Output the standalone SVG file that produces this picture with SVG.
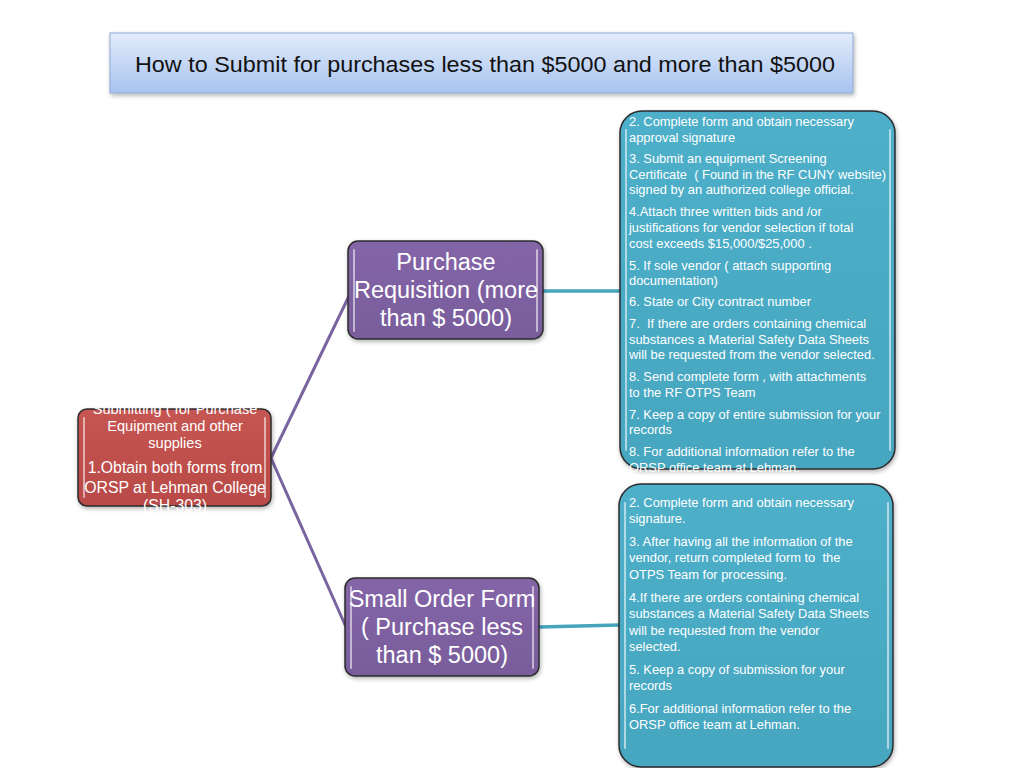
<svg xmlns="http://www.w3.org/2000/svg" width="1024" height="768" viewBox="0 0 1024 768">
<defs>
<linearGradient id="gTitle" x1="0" y1="0" x2="0" y2="1">
<stop offset="0" stop-color="#e3ecfb"/>
<stop offset="1" stop-color="#a7c3ef"/>
</linearGradient>
<linearGradient id="gRed" x1="0" y1="0" x2="0" y2="1">
<stop offset="0" stop-color="#c65552"/>
<stop offset="1" stop-color="#b84a47"/>
</linearGradient>
<linearGradient id="gPurple" x1="0" y1="0" x2="0" y2="1">
<stop offset="0" stop-color="#8466a8"/>
<stop offset="1" stop-color="#785c9b"/>
</linearGradient>
<linearGradient id="gBlue" x1="0" y1="0" x2="0" y2="1">
<stop offset="0" stop-color="#4eafc9"/>
<stop offset="1" stop-color="#46a6c0"/>
</linearGradient>
<filter id="sh" x="-10%" y="-10%" width="120%" height="125%">
<feDropShadow dx="1" dy="2" stdDeviation="2" flood-color="#000" flood-opacity="0.3"/>
</filter>
</defs>
<style>
.box{stroke:#2b2b2b;stroke-width:1.5}
.hl{stroke:#ffffff;stroke-opacity:0.55;stroke-width:2;stroke-linecap:round;fill:none}
.t{font-family:"Liberation Sans",Arial,sans-serif;fill:#ffffff;white-space:pre}
.small{font-size:12.9px}
.mid{font-size:14.6px;text-anchor:middle}
.mid2{font-size:15.8px;text-anchor:middle}
.big{font-size:23.5px;text-anchor:middle}
.title{font-family:"Liberation Sans",Arial,sans-serif;font-size:22px;fill:#111111}
.cp{stroke:#7a64a0;stroke-width:3;fill:none}
.cb{stroke:#46a4bd;stroke-width:3.5;fill:none}
</style>
<rect width="1024" height="768" fill="#ffffff"/>

<g id="title">
<rect x="110" y="33" width="743" height="60" fill="url(#gTitle)" stroke="#8eaad3" stroke-width="1" filter="url(#sh)"/>
<text class="title" x="135" y="72" textLength="700" lengthAdjust="spacingAndGlyphs">How to Submit for purchases less than $5000 and more than $5000</text>
</g>

<g id="connectors">
<line class="cp" x1="271" y1="458" x2="349" y2="296"/>
<line class="cp" x1="271" y1="458" x2="346" y2="627"/>
<line class="cb" x1="543" y1="291" x2="621" y2="291"/>
<line class="cb" x1="539" y1="627" x2="620" y2="625"/>
</g>

<g id="node-start">
<rect class="box" x="78" y="409" width="193" height="97" rx="9" fill="url(#gRed)" filter="url(#sh)"/>
<line class="hl" x1="84" y1="418" x2="84" y2="497"/>
<line class="hl" x1="265" y1="418" x2="265" y2="497"/>
<text class="t mid" x="175" y="414">Submitting ( for Purchase</text>
<text class="t mid" x="175" y="431">Equipment and other</text>
<text class="t mid" x="175" y="448">supplies</text>
<text class="t mid2" x="175" y="473">1.Obtain both forms from</text>
<text class="t mid2" x="175" y="493">ORSP at Lehman College</text>
<text class="t mid2" x="175" y="511">(SH-303)</text>
</g>

<g id="node-purchase-requisition">
<rect class="box" x="348" y="241" width="195" height="98" rx="10" fill="url(#gPurple)" filter="url(#sh)"/>
<line class="hl" x1="354" y1="250" x2="354" y2="331"/>
<line class="hl" x1="537" y1="250" x2="537" y2="331"/>
<text class="t big" x="446" y="270">Purchase</text>
<text class="t big" x="446" y="298">Requisition (more</text>
<text class="t big" x="446" y="326">than $ 5000)</text>
</g>

<g id="node-small-order">
<rect class="box" x="345" y="578" width="194" height="98" rx="10" fill="url(#gPurple)" filter="url(#sh)"/>
<line class="hl" x1="351" y1="587" x2="351" y2="668"/>
<line class="hl" x1="533" y1="587" x2="533" y2="668"/>
<text class="t big" x="442" y="607">Small Order Form</text>
<text class="t big" x="442" y="635">( Purchase less</text>
<text class="t big" x="442" y="663">than $ 5000)</text>
</g>

<g id="node-steps-large">
<rect class="box" x="620" y="111" width="275" height="358" rx="22" fill="url(#gBlue)" filter="url(#sh)"/>
<line class="hl" x1="626" y1="130" x2="626" y2="450"/>
<line class="hl" x1="890" y1="130" x2="890" y2="450"/>
<text class="t small" x="629" y="126">2. Complete form and obtain necessary</text>
<text class="t small" x="629" y="142">approval signature</text>
<text class="t small" x="629" y="163">3. Submit an equipment Screening</text>
<text class="t small" x="629" y="179">Certificate  ( Found in the RF CUNY website)</text>
<text class="t small" x="629" y="194">signed by an authorized college official.</text>
<text class="t small" x="629" y="216">4.Attach three written bids and /or</text>
<text class="t small" x="629" y="232">justifications for vendor selection if total</text>
<text class="t small" x="629" y="248">cost exceeds $15,000/$25,000 .</text>
<text class="t small" x="629" y="270">5. If sole vendor ( attach supporting</text>
<text class="t small" x="629" y="285">documentation)</text>
<text class="t small" x="629" y="306">6. State or City contract number</text>
<text class="t small" x="629" y="328">7.  If there are orders containing chemical</text>
<text class="t small" x="629" y="344">substances a Material Safety Data Sheets</text>
<text class="t small" x="629" y="359">will be requested from the vendor selected.</text>
<text class="t small" x="629" y="381">8. Send complete form , with attachments</text>
<text class="t small" x="629" y="397">to the RF OTPS Team</text>
<text class="t small" x="629" y="419">7. Keep a copy of entire submission for your</text>
<text class="t small" x="629" y="434">records</text>
<text class="t small" x="629" y="456">8. For additional information refer to the</text>
<text class="t small" x="629" y="472">ORSP office team at Lehman.</text>
</g>

<g id="node-steps-small">
<rect class="box" x="619" y="484" width="274" height="283" rx="22" fill="url(#gBlue)" filter="url(#sh)"/>
<line class="hl" x1="625" y1="503" x2="625" y2="748"/>
<line class="hl" x1="888" y1="503" x2="888" y2="748"/>
<text class="t small" x="629" y="507">2. Complete form and obtain necessary</text>
<text class="t small" x="629" y="523">signature.</text>
<text class="t small" x="629" y="546">3. After having all the information of the</text>
<text class="t small" x="629" y="562">vendor, return completed form to  the</text>
<text class="t small" x="629" y="579">OTPS Team for processing.</text>
<text class="t small" x="629" y="602">4.If there are orders containing chemical</text>
<text class="t small" x="629" y="618">substances a Material Safety Data Sheets</text>
<text class="t small" x="629" y="635">will be requested from the vendor</text>
<text class="t small" x="629" y="651">selected.</text>
<text class="t small" x="629" y="674">5. Keep a copy of submission for your</text>
<text class="t small" x="629" y="690">records</text>
<text class="t small" x="629" y="713">6.For additional information refer to the</text>
<text class="t small" x="629" y="729">ORSP office team at Lehman.</text>
</g>
</svg>
